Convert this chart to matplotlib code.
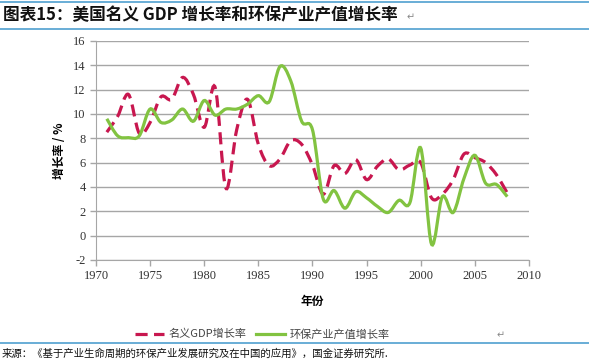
import matplotlib.pyplot as plt
import numpy as np
from matplotlib.path import Path
from matplotlib.patches import PathPatch
from matplotlib.lines import Line2D

plt.rcParams['font.family'] = ['Noto Sans CJK SC', 'DejaVu Sans']
plt.rcParams['axes.unicode_minus'] = False

# Data
years = list(range(1971, 2009))
gdp = [8.5, 9.8, 11.6, 8.4, 9.3, 11.4, 11.2, 13.0, 11.6, 8.9, 12.2, 3.9, 8.7, 11.2,
       7.5, 5.75, 6.3, 7.8, 7.5, 5.8, 3.4, 5.75, 5.1, 6.25, 4.6, 5.7, 6.3, 5.4,
       5.8, 6.0, 3.1, 3.4, 4.6, 6.7, 6.4, 6.0, 5.0, 3.5]
env = [9.6, 8.2, 8.05, 8.2, 10.4, 9.3, 9.5, 10.4, 9.4, 11.1, 9.9, 10.4, 10.4, 10.8,
       11.5, 11.0, 13.9, 12.7, 9.4, 8.7, 3.0, 3.7, 2.25, 3.6, 3.1, 2.4, 1.9, 2.9,
       2.7, 7.2, -0.7, 3.2, 1.9, 4.7, 6.6, 4.3, 4.2, 3.2]

title = '图表15：美国名义 GDP 增长率和环保产业产值增长率'
source = '来源：《基于产业生命周期的环保产业发展研究及在中国的应用》，国金证券研究所.'


def smooth_path(x, y):
    # Excel-style smoothed line: cubic Bezier segments through the points
    x = np.asarray(x, float)
    y = np.asarray(y, float)
    n = len(x)
    verts = [(x[0], y[0])]
    codes = [Path.MOVETO]
    for i in range(n - 1):
        p0 = max(i - 1, 0)
        p3 = min(i + 2, n - 1)
        c1 = (x[i] + (x[i + 1] - x[p0]) / 6, y[i] + (y[i + 1] - y[p0]) / 6)
        c2 = (x[i + 1] - (x[p3] - x[i]) / 6, y[i + 1] - (y[p3] - y[i]) / 6)
        verts += [c1, c2, (x[i + 1], y[i + 1])]
        codes += [Path.CURVE4] * 3
    return Path(verts, codes)


fig = plt.figure(figsize=(5.89, 3.62), dpi=100)
ax = fig.add_axes([0.163, 0.282, 0.735, 0.605])

red = '#C8174F'
green = '#82C341'
dash = (0, (3.8, 2.0))

ax.add_patch(PathPatch(smooth_path(years, gdp), fill=False, edgecolor=red,
                       linewidth=2.3, linestyle=dash, zorder=3))
ax.add_patch(PathPatch(smooth_path(years, env), fill=False, edgecolor=green,
                       linewidth=2.3, zorder=4))

ax.set_xlim(1970, 2010)
ax.set_ylim(-2, 16)
ax.set_xticks(range(1970, 2011, 5))
ax.set_yticks(range(-2, 17, 2))
ax.yaxis.grid(True, color='#A6A6A6', linewidth=1)
ax.set_axisbelow(True)
for s in ['top', 'right']:
    ax.spines[s].set_visible(False)
for s in ['left', 'bottom']:
    ax.spines[s].set_color('#A6A6A6')
ax.tick_params(colors='#A6A6A6', length=4, width=1)
for lab in ax.get_xticklabels() + ax.get_yticklabels():
    lab.set_family('Liberation Serif')
    lab.set_fontsize(9)
    lab.set_color('#333333')

ax.set_xlabel('年份', fontsize=8.5, fontweight='bold', labelpad=9)
ax.set_ylabel('增长率 / %', fontsize=8.5, fontweight='bold', labelpad=5)

handles = [Line2D([], [], color=red, linewidth=2.3, linestyle=dash),
           Line2D([], [], color=green, linewidth=2.3)]
fig.legend(handles, ['名义GDP增长率', '环保产业产值增长率'], loc='center',
           bbox_to_anchor=(0.445, 0.077), ncol=2, frameon=False, fontsize=8,
           handlelength=2.6, columnspacing=0.9, handletextpad=0.4,
           labelcolor='#444444')

# title and frame lines
fig.text(0.005, 0.958, title, fontsize=12, fontweight='bold', va='center',
         ha='left', color='#111111')
fig.text(0.69, 0.952, '↵', fontsize=7, color='#888888', va='center')
fig.add_artist(Line2D([0, 1], [0.995, 0.995], color='#4F9FCF', linewidth=1.2))
fig.add_artist(Line2D([0, 1], [0.92, 0.92], color='#4F9FCF', linewidth=1.2))
fig.add_artist(Line2D([0, 1], [0.053, 0.053], color='#4F9FCF', linewidth=1.2))
fig.text(0.843, 0.075, '↵', fontsize=7, color='#888888', va='center')
fig.text(0.003, 0.023, source, fontsize=7.5, va='center', ha='left', color='#111111')

plt.savefig('out.png', dpi=100)
